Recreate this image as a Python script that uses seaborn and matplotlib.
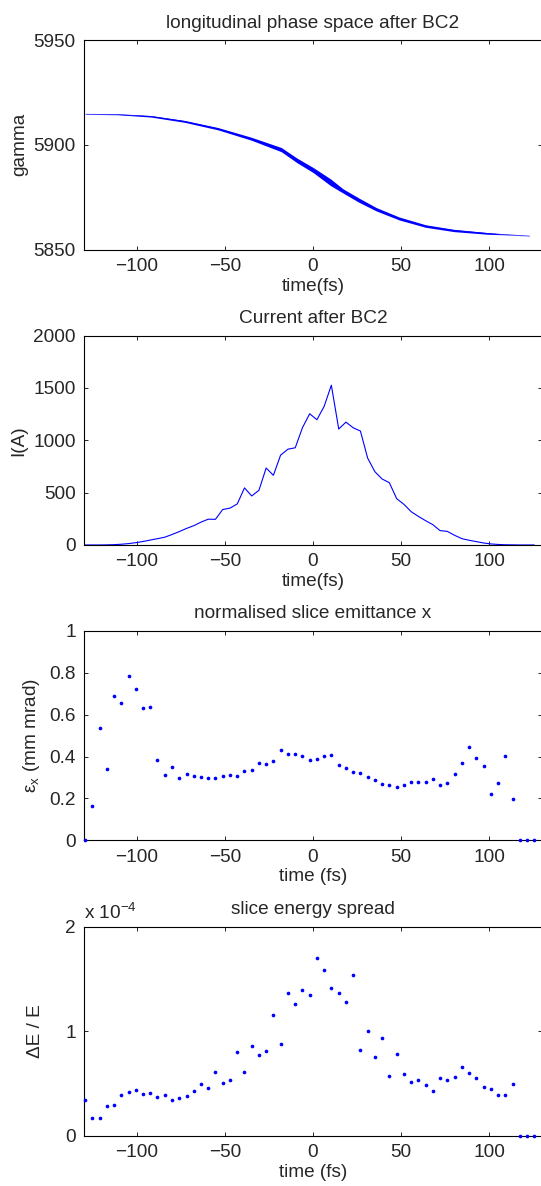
"""Beam diagnostics after BC2: phase space, current, slice emittance, slice energy spread."""

import matplotlib

matplotlib.use("Agg")
import matplotlib.pyplot as plt
import pandas as pd
import seaborn as sns

# Slice centres (fs), shared by the current, emittance and energy spread panels
slice_t = [
    -129.4, -125.3, -121.2, -117.1, -112.9, -108.8, -104.7, -100.6, -96.5, -92.4,
    -88.3, -84.2, -80.0, -75.9, -71.8, -67.7, -63.6, -59.5, -55.4, -51.3,
    -47.1, -43.0, -38.9, -34.8, -30.7, -26.6, -22.5, -18.4, -14.2, -10.1,
    -6.0, -1.9, 2.2, 6.3, 10.4, 14.6, 18.7, 22.8, 26.9, 31.0,
    35.1, 39.2, 43.3, 47.5, 51.6, 55.7, 59.8, 63.9, 68.0, 72.1,
    76.2, 80.4, 84.5, 88.6, 92.7, 96.8, 100.9, 105.0, 109.1, 113.3,
    117.4, 121.5, 125.6,
]

# Current profile (A)
current_a = [
    0, 0, 0, 1, 3, 7, 13, 22, 33, 47,
    60, 74, 100, 128, 158, 184, 218, 246, 245, 338,
    352, 392, 545, 468, 522, 735, 665, 858, 915, 928,
    1120, 1253, 1196, 1323, 1526, 1107, 1173, 1119, 1088, 830,
    700, 630, 595, 442, 388, 318, 273, 232, 194, 137,
    130, 92, 60, 45, 32, 19, 10, 5, 2, 1,
    0, 0, 0,
]

# Normalised slice emittance x (mm mrad)
emit_x = [
    0.0, 0.164, 0.538, 0.338, 0.688, 0.656, 0.783, 0.720, 0.631, 0.634,
    0.381, 0.311, 0.352, 0.295, 0.318, 0.307, 0.304, 0.299, 0.298, 0.307,
    0.312, 0.306, 0.331, 0.336, 0.369, 0.366, 0.377, 0.433, 0.414, 0.414,
    0.403, 0.384, 0.390, 0.404, 0.409, 0.361, 0.347, 0.328, 0.320, 0.301,
    0.288, 0.269, 0.263, 0.253, 0.266, 0.279, 0.279, 0.280, 0.291, 0.264,
    0.272, 0.317, 0.371, 0.444, 0.392, 0.357, 0.220, 0.272, 0.403, 0.196,
    0.0, 0.0, 0.0,
]

# Slice energy spread dE/E, in units of 1e-4
espread_e4 = [
    0.340, 0.168, 0.171, 0.283, 0.295, 0.390, 0.419, 0.435, 0.403, 0.410,
    0.375, 0.387, 0.340, 0.362, 0.384, 0.429, 0.495, 0.454, 0.610, 0.505,
    0.533, 0.797, 0.613, 0.863, 0.771, 0.810, 1.152, 0.876, 1.365, 1.262,
    1.397, 1.342, 1.702, 1.587, 1.416, 1.362, 1.276, 1.537, 0.816, 1.003,
    0.752, 0.933, 0.571, 0.787, 0.594, 0.514, 0.537, 0.483, 0.432, 0.556,
    0.537, 0.559, 0.657, 0.603, 0.556, 0.470, 0.451, 0.394, 0.394, 0.492,
    0.0, 0.0, 0.0,
]

# Longitudinal phase space: centre of the particle band and its half width (gamma)
lps_t = [-129, -111, -92, -73, -54, -35, -18, -9, 0, 10, 17, 26, 36, 49, 64, 80, 99, 110, 123]
lps_gamma = [
    5914.6, 5914.5, 5913.6, 5911.2, 5907.7, 5902.9, 5897.7, 5892.5, 5888.0, 5882.1,
    5878.0, 5873.6, 5869.2, 5864.8, 5861.2, 5859.1, 5857.7, 5857.1, 5856.4,
]
lps_halfwidth = [0.05, 0.15, 0.35, 0.45, 0.55, 0.7, 1.0, 1.1, 1.2, 1.6, 1.0, 1.0, 0.8, 0.7, 0.6, 0.55, 0.4, 0.1, 0.0]

BLUE = (0, 0, 1)
FS = 13.7
XTICKS = [-100, -50, 0, 50, 100]

sns.set_style("ticks")
plt.rcParams.update({
    "font.size": FS,
    "axes.edgecolor": "black",
    "axes.linewidth": 0.8,
    "xtick.direction": "in",
    "ytick.direction": "in",
    "xtick.major.size": 3,
    "ytick.major.size": 3,
    "xtick.major.width": 0.7,
    "ytick.major.width": 0.7,
    "xtick.major.pad": 6,
    "ytick.major.pad": 6,
    "xtick.labelsize": FS,
    "ytick.labelsize": FS,
    "mathtext.fontset": "custom",
    "mathtext.rm": "Liberation Sans",
    "mathtext.it": "Liberation Sans",
    "mathtext.bf": "Liberation Sans",
})
plt.rcParams["font.family"] = ["Liberation Sans", "DejaVu Sans"]

slices = pd.DataFrame({"t": slice_t, "current": current_a, "emit": emit_x, "espread": espread_e4})
lps = pd.DataFrame({"t": lps_t, "gamma": lps_gamma, "half": lps_halfwidth})

fig = plt.figure(figsize=(5.41, 11.86), dpi=100)
left, width, height = 0.1553, 0.8466, 0.1766
bottoms = [0.7896, 0.5405, 0.2915, 0.0422]
axes = [fig.add_axes([left, b, width, height]) for b in bottoms]


def style_axes(ax, title, xlabel, ylabel, ylim, yticks, yticklabels=None, ylabelpad=4):
    ax.set_xlim(-130, 130)
    ax.set_xticks(XTICKS)
    ax.set_ylim(*ylim)
    ax.set_yticks(yticks)
    if yticklabels is not None:
        ax.set_yticklabels(yticklabels)
    ax.tick_params(top=True, right=True)
    for s in ax.spines.values():
        s.set_visible(True)
    ax.set_title(title, fontsize=FS, pad=9)
    ax.set_xlabel(xlabel, fontsize=FS, labelpad=2)
    ax.set_ylabel(ylabel, fontsize=FS, labelpad=ylabelpad)


# 1) longitudinal phase space
ax = axes[0]
ax.fill_between(lps["t"], lps["gamma"] - lps["half"], lps["gamma"] + lps["half"],
                color=BLUE, linewidth=0)
sns.lineplot(data=lps, x="t", y="gamma", color=BLUE, linewidth=0.45, ax=ax)
style_axes(ax, "longitudinal phase space after BC2", "time(fs)", "gamma",
           (5850, 5950), [5850, 5900, 5950])

# 2) current
ax = axes[1]
sns.lineplot(data=slices, x="t", y="current", color=BLUE, linewidth=0.8, ax=ax)
style_axes(ax, "Current after BC2", "time(fs)", "I(A)", (0, 2000), [0, 500, 1000, 1500, 2000])

# 3) slice emittance
ax = axes[2]
sns.scatterplot(data=slices, x="t", y="emit", color=BLUE, s=7, linewidth=0, ax=ax,
                clip_on=False, zorder=3)
style_axes(ax, "normalised slice emittance x", "time (fs)", r"ε$_\mathrm{x}$ (mm mrad)",
           (0, 1), [0, 0.2, 0.4, 0.6, 0.8, 1], ["0", "0.2", "0.4", "0.6", "0.8", "1"],
           ylabelpad=5.5)

# 4) slice energy spread
ax = axes[3]
sns.scatterplot(data=slices, x="t", y="espread", color=BLUE, s=7, linewidth=0, ax=ax,
                clip_on=False, zorder=3)
style_axes(ax, "slice energy spread", "time (fs)", "ΔE / E", (0, 2), [0, 1, 2], ylabelpad=15.5)
ax.text(0.0, 1.015, r"x 10$^{\mathrm{-4}}$", transform=ax.transAxes, fontsize=FS,
        ha="left", va="bottom")

fig.savefig("out.png", dpi=100)
